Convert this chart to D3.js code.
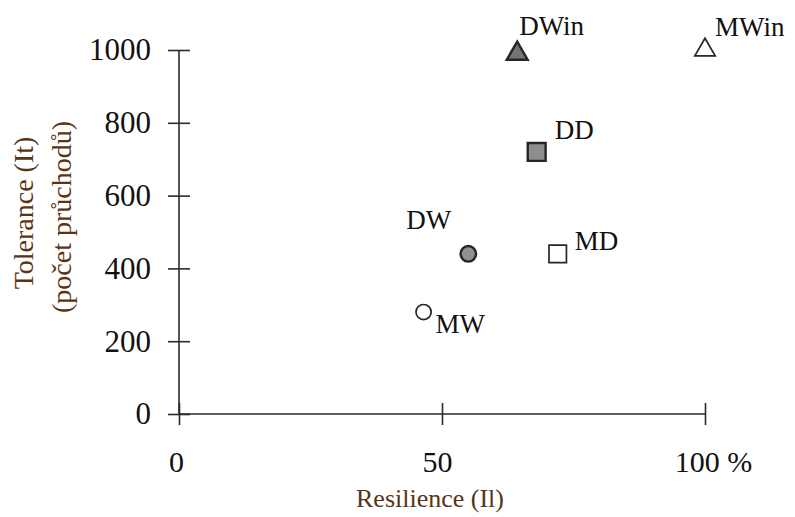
<!DOCTYPE html>
<html>
<head>
<meta charset="utf-8">
<script src="https://cdn.jsdelivr.net/npm/d3@7/dist/d3.min.js"></script>
<style>
  html, body { margin: 0; padding: 0; background: #fff; }
  svg { display: block; }
  text { font-family: "Liberation Serif", "Times New Roman", serif; }
</style>
</head>
<body>
<svg id="chart" width="795" height="517"></svg>
<script>
// Measured scenarios: resilience (%) vs tolerance (number of passes)
const names = ["DWin", "MWin", "DD", "DW", "MD", "MW"];
const resilience = [64.3, 100, 68, 55, 72, 46.5];
const tolerance = [990, 1000, 720, 440, 440, 280];
const shapes = ["triangle", "triangle", "square", "circle", "square", "circle"];
const filled = [true, false, true, true, false, false];

const xTicks = [0, 50, 100];
const xTickLabels = ["0", "50", "100 %"];
const yTicks = [0, 200, 400, 600, 800, 1000];

const xTitle = "Resilience (Il)";
const yTitleLines = ["Tolerance (It)", "(počet průchodů)"];

// ---- layout ----
const svg = d3.select("#chart");
const x = d3.scaleLinear().domain([0, 100]).range([179, 705]);
const y = d3.scaleLinear().domain([0, 1000]).range([414, 50]);
const axisColor = "#2a2a2a";
const titleColor = "#5a3414";

// per-label text offsets relative to the marker
const labelOffset = {
  DWin: [2, -19, "start"],
  MWin: [10, -14, "start"],
  DD: [18, -13, "start"],
  DW: [-17, -25, "end"],
  MD: [17, -4, "start"],
  MW: [12, 21, "start"]
};
const xLabelShift = [-3, -5, 8];

// y axis
const yAxis = d3.axisLeft(y).tickValues(yTicks).tickSize(11).tickPadding(17)
  .tickFormat(d3.format("d"));
const gy = svg.append("g").attr("transform", `translate(${x(0)},0)`).call(yAxis);
gy.select(".domain").attr("stroke", axisColor).attr("stroke-width", 1.6)
  .attr("d", `M0,${y(0)}V${y(1000)}`);
gy.selectAll(".tick line").attr("x1", 11).attr("x2", -11)
  .attr("stroke", axisColor).attr("stroke-width", 1.6);
gy.selectAll(".tick text").attr("font-size", 31).attr("fill", "#111")
  .attr("font-family", "Liberation Serif");

// x axis
const xAxis = d3.axisBottom(x).tickValues(xTicks).tickSize(11).tickPadding(26)
  .tickFormat((d, i) => xTickLabels[i]);
const gx = svg.append("g").attr("transform", `translate(0,${y(0)})`).call(xAxis);
gx.select(".domain").attr("stroke", axisColor).attr("stroke-width", 1.6)
  .attr("d", `M${x(0)},0H${x(100)}`);
gx.selectAll(".tick line").attr("y1", -11).attr("y2", 11)
  .attr("stroke", axisColor).attr("stroke-width", 1.6);
gx.selectAll(".tick text").attr("font-size", 30).attr("fill", "#111")
  .attr("font-family", "Liberation Serif")
  .attr("dx", (d, i) => xLabelShift[i]);

// axis titles
svg.append("text")
  .attr("x", 430).attr("y", 507)
  .attr("text-anchor", "middle").attr("font-size", 26).attr("fill", titleColor)
  .text(xTitle);

const yt = svg.append("g").attr("transform", "translate(0,217) rotate(-90)");
yt.append("text").attr("x", 4).attr("y", 33)
  .attr("text-anchor", "middle").attr("font-size", 28).attr("fill", titleColor)
  .text(yTitleLines[0]);
yt.append("text").attr("x", 0).attr("y", 71)
  .attr("text-anchor", "middle").attr("font-size", 28).attr("fill", titleColor)
  .text(yTitleLines[1]);

// markers
const symbolType = { triangle: d3.symbolTriangle, square: d3.symbolSquare, circle: d3.symbolCircle };
const symbolSize = { triangle: 190, square: 320, circle: 190 };
const fillColor = { triangle: "#747474", square: "#8e8e8e", circle: "#909090" };

const pts = names.map((n, i) => ({
  name: n, r: resilience[i], t: tolerance[i], shape: shapes[i], filled: filled[i]
}));

svg.append("g").selectAll("path").data(pts).join("path")
  .attr("transform", d => `translate(${x(d.r)},${y(d.t)})`)
  .attr("d", d => d3.symbol().type(symbolType[d.shape]).size(
      d.filled ? symbolSize[d.shape] : symbolSize[d.shape] * 0.95)())
  .attr("fill", d => d.filled ? fillColor[d.shape] : "#fff")
  .attr("stroke", "#262626")
  .attr("stroke-width", d => d.filled ? 2.4 : 1.7);

// point labels
svg.append("g").selectAll("text").data(pts).join("text")
  .attr("x", d => x(d.r) + labelOffset[d.name][0])
  .attr("y", d => y(d.t) + labelOffset[d.name][1])
  .attr("text-anchor", d => labelOffset[d.name][2])
  .attr("font-size", 27).attr("fill", "#111")
  .text(d => d.name);
</script>
</body>
</html>
